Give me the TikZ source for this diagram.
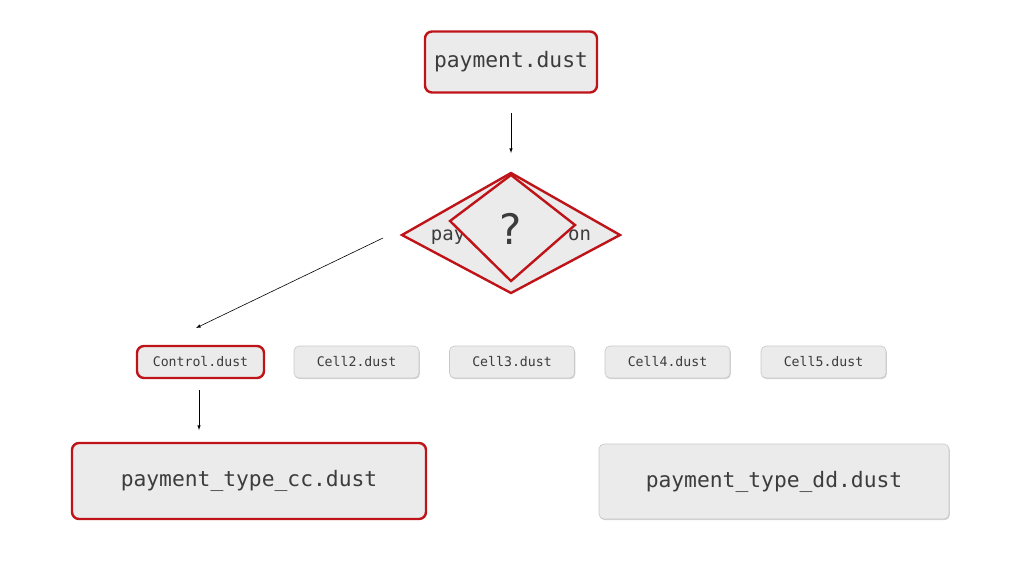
\documentclass[tikz,border=0pt]{standalone}
\usepackage{fontspec}
\setmonofont{DejaVu Sans Mono}
\setmainfont{DejaVu Sans}
\usetikzlibrary{shapes,arrows,shadows}
\definecolor{boxred}{RGB}{190,20,25}
\definecolor{boxfill}{RGB}{235,235,235}
\definecolor{boxgray}{RGB}{200,200,200}
\definecolor{txt}{RGB}{60,60,60}
\begin{document}
\begin{tikzpicture}[x=1pt,y=-1pt,
     redbox/.style={draw=boxred,line width=2.4pt,fill=boxfill,rounded corners=7pt,font=\ttfamily,text=txt,inner sep=0pt},
     graybox/.style={draw=boxgray,line width=0.6pt,fill=boxfill,rounded corners=5pt,font=\ttfamily,text=txt,inner sep=0pt,
        drop shadow={shadow xshift=0.8pt,shadow yshift=-1.2pt,opacity=0.35}},
     flow/.style={-latex,line width=0.6pt,black}
     ]
\useasboundingbox (0,0) rectangle (1024,576);

%Top file
\node[redbox,minimum width=172,minimum height=61,font=\ttfamily\fontsize{21.3}{24}\selectfont] (pay) at (511,62) {payment.dust};

%Decision
\draw[boxred,line width=2.4pt,fill=boxfill] (402,235) -- (511,173) -- (620,235) -- (511,293) -- cycle;
\node[font=\ttfamily\fontsize{19}{22}\selectfont,text=txt] (opt) at (511,236) {pay\phantom{ment\_opti}on};
\draw[boxred,line width=2.4pt,fill=boxfill] (511,175) -- (575,225) -- (511,281) -- (450,221) -- cycle;
\node[font=\fontsize{42}{46}\selectfont,text=txt] (q) at (511,229) {?};

%Row of cells
\node[redbox,minimum width=127,minimum height=32,font=\ttfamily\fontsize{13.2}{15}\selectfont] (ctrl) at (200.5,362) {Control.dust};
\foreach [count=\i from 2] \x in {356.5,512,667.5,823.5}
   \node[graybox,minimum width=125,minimum height=32,font=\ttfamily\fontsize{13.2}{15}\selectfont] (cell\i) at (\x,362) {Cell\i.dust};

%Bottom files
\node[redbox,minimum width=354,minimum height=76,font=\ttfamily\fontsize{21.3}{24}\selectfont] (cc) at (249,481) {payment\_type\_cc.dust};
\node[graybox,minimum width=350,minimum height=75,font=\ttfamily\fontsize{21.3}{24}\selectfont] (dd) at (774,481.5) {payment\_type\_dd.dust};

%Connectors
\coordinate (a1) at (511,113);
\coordinate (a2) at (511,153);
\coordinate (b1) at (383,238);
\coordinate (b2) at (196,328);
\coordinate (c1) at (199,390);
\coordinate (c2) at (199,430);
\draw[flow] (a1) -- (a2);
\draw[flow] (b1) -- (b2);
\draw[flow] (c1) -- (c2);
\end{tikzpicture}
\end{document}
